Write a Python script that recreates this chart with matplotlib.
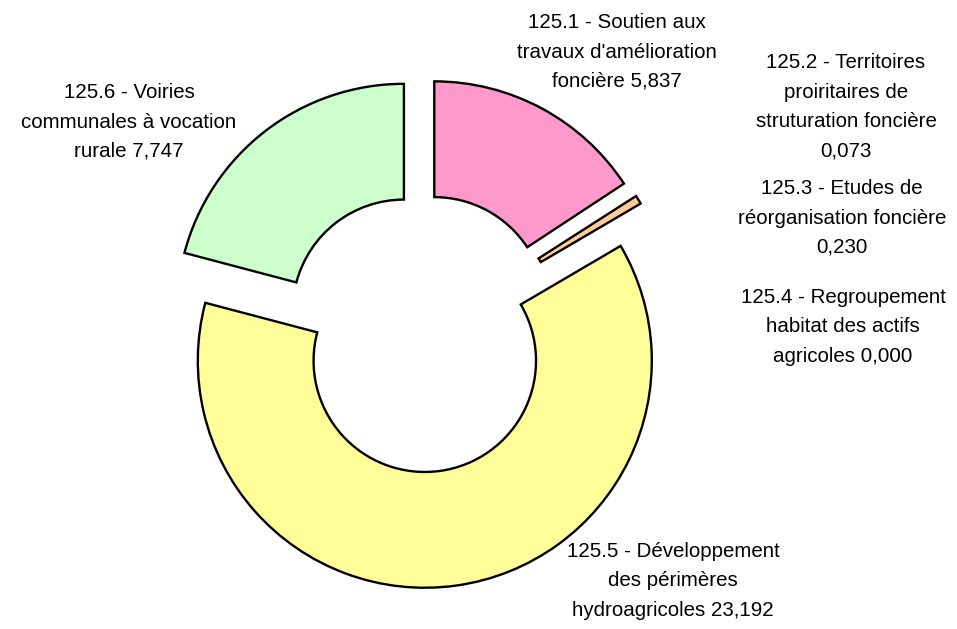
import matplotlib
matplotlib.use("Agg")
import matplotlib.pyplot as plt

labels = [
    "125.1 - Soutien aux\ntravaux d'amélioration\nfoncière 5,837",
    "125.2 - Territoires\nproiritaires de\nstruturation foncière\n0,073",
    "125.3 - Etudes de\nréorganisation foncière\n0,230",
    "125.4 - Regroupement\nhabitat des actifs\nagricoles 0,000",
    "125.5 - Développement\ndes périmères\nhydroagricoles 23,192",
    "125.6 - Voiries\ncommunales à vocation\nrurale 7,747",
]
values = [5.837, 0.073, 0.230, 0.000, 23.192, 7.747]
colors = ["#FF99CC", "#FFCC99", "#FFCC99", "#CCFFFF", "#FFFF99", "#CCFFCC"]
visible = [True, False, True, False, True, True]

W, H = 957, 629
fig = plt.figure(figsize=(W / 100, H / 100), dpi=100)
ax = fig.add_axes([0, 0, 1, 1])

cx, cy = 421, H - 333
R = 227
wedges, _ = ax.pie(values, radius=R, center=(cx, cy), startangle=90,
                   counterclock=False, explode=[28] * len(values),
                   colors=colors, normalize=True,
                   wedgeprops=dict(width=R * 0.51, edgecolor="black", linewidth=1.7))
for w, v in zip(wedges, visible):
    if not v:
        w.set_facecolor("none")
        w.set_linewidth(0)

ax.set_xlim(0, W)
ax.set_ylim(0, H)
ax.set_aspect("equal")
ax.axis("off")

label_pos = [(617, 52), (846, 107), (842, 218), (843, 327), (673, 581), (129, 122)]
for txt, (x, y) in zip(labels, label_pos):
    ax.text(x, H - y, txt, ha="center", va="center", fontsize=14.8,
            family=["Liberation Sans", "DejaVu Sans"], color="black",
            linespacing=1.69)

fig.savefig("out.png", dpi=100)
